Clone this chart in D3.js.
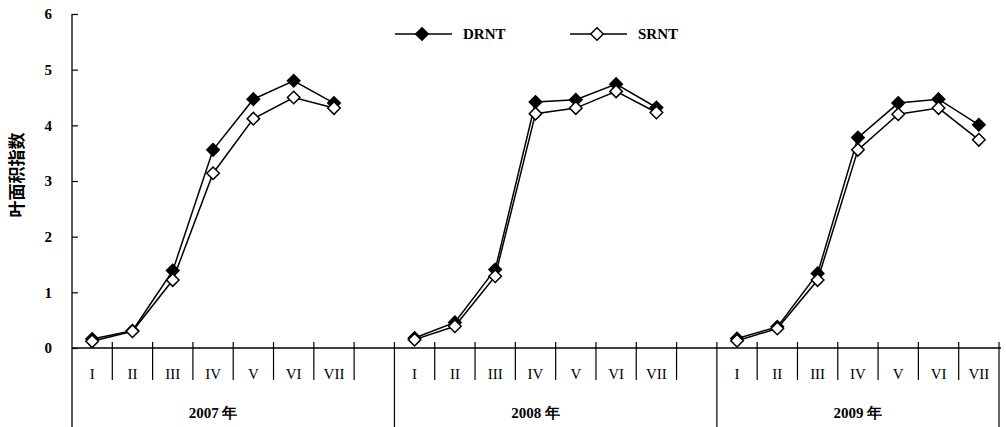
<!DOCTYPE html>
<html>
<head>
<meta charset="utf-8">
<script src="https://cdn.jsdelivr.net/npm/d3@7"></script>
<style>
  body { margin: 0; background: #fff; }
  svg { display: block; }
</style>
</head>
<body>
<div id="chart"></div>
<script>
// data (leaf area index per growth stage)
const years = ["2007", "2008", "2009"];
const stages = ["I", "II", "III", "IV", "V", "VI", "VII"];
const drnt = {
  "2007": [0.16, 0.31, 1.39, 3.56, 4.47, 4.80, 4.40],
  "2008": [0.18, 0.46, 1.41, 4.42, 4.46, 4.74, 4.32],
  "2009": [0.17, 0.38, 1.34, 3.78, 4.40, 4.47, 4.01]
};
const srnt = {
  "2007": [0.12, 0.30, 1.22, 3.14, 4.12, 4.50, 4.31],
  "2008": [0.15, 0.39, 1.29, 4.21, 4.31, 4.61, 4.23],
  "2009": [0.13, 0.35, 1.22, 3.56, 4.20, 4.31, 3.74]
};
const yTicks = [0, 1, 2, 3, 4, 5, 6];

const width = 1006, height = 427;
const x0 = 72, x1 = 999, yTop = 14, yBase = 348, bottom = 427;

// slots: 7 stages per year, with an empty slot after 2007 and 2008
let slots = [];
years.forEach((yr, i) => {
  stages.forEach(s => slots.push(yr + "-" + s));
  if (i < years.length - 1) slots.push(yr + "-gap");
});

const x = d3.scaleBand().domain(slots).range([x0, x1]).padding(0);
const y = d3.scaleLinear().domain([0, 6]).range([yBase, yTop]);

const svg = d3.select("#chart").append("svg")
  .attr("width", width)
  .attr("height", height);

const serif = "'Liberation Serif', 'Times New Roman', serif";

// y axis
const yAxis = svg.append("g")
  .attr("transform", `translate(${x0},0)`)
  .call(d3.axisLeft(y).tickValues(yTicks).tickFormat(d3.format("d"))
    .tickSizeInner(-6).tickSizeOuter(0).tickPadding(20));
yAxis.select(".domain").remove();
yAxis.selectAll(".tick line").attr("stroke", "#000").attr("stroke-width", 1.2);
yAxis.selectAll(".tick text")
  .style("font-family", serif)
  .style("font-weight", "bold")
  .style("font-size", "15px")
  .attr("fill", "#000");

svg.append("line")
  .attr("x1", x0).attr("x2", x0).attr("y1", yTop).attr("y2", bottom)
  .attr("stroke", "#000").attr("stroke-width", 1.3);

svg.append("text")
  .attr("transform", `translate(23,175) rotate(-90)`)
  .attr("text-anchor", "middle")
  .style("font-family", "'Noto Sans CJK SC', sans-serif")
  .style("font-weight", "bold")
  .style("font-size", "17px")
  .text("叶面积指数");

// x axis baseline
svg.append("line")
  .attr("x1", x0).attr("x2", 1001).attr("y1", yBase).attr("y2", yBase)
  .attr("stroke", "#000").attr("stroke-width", 1.3);

// stage separators
const bounds = slots.map(s => x(s)).concat([x1]);
svg.selectAll("line.sep")
  .data(bounds.slice(1))
  .enter().append("line")
  .attr("class", "sep")
  .attr("x1", d => d).attr("x2", d => d)
  .attr("y1", yBase - 6)
  .attr("y2", (d, i) => {
    const k = slots[i];
    return (k.endsWith("gap") || i === slots.length - 1) ? bottom : 380;
  })
  .attr("stroke", "#000").attr("stroke-width", 1.2);

// stage labels
svg.selectAll("text.stage")
  .data(slots.filter(s => !s.endsWith("gap")))
  .enter().append("text")
  .attr("class", "stage")
  .attr("x", d => x(d) + x.bandwidth() / 2)
  .attr("y", 379)
  .attr("text-anchor", "middle")
  .style("font-family", serif)
  .style("font-size", "15px")
  .text(d => d.split("-")[1]);

// year labels, centred over the seven stages
svg.selectAll("text.year")
  .data(years)
  .enter().append("text")
  .attr("class", "year")
  .attr("x", d => (x(d + "-I") + x(d + "-VII") + x.bandwidth()) / 2)
  .attr("y", 418)
  .attr("text-anchor", "middle")
  .style("font-family", serif)
  .style("font-weight", "bold")
  .style("font-size", "15px")
  .text(d => d + " 年");

// series
const line = d3.line()
  .x(d => x(d.key) + x.bandwidth() / 2)
  .y(d => y(d.v));
const diamond = d3.symbol().type(d3.symbolDiamond2).size(100);

function drawSeries(data, fill) {
  years.forEach(yr => {
    const pts = data[yr].map((v, i) => ({ key: yr + "-" + stages[i], v: v }));
    svg.append("path")
      .datum(pts)
      .attr("d", line)
      .attr("fill", "none")
      .attr("stroke", "#000")
      .attr("stroke-width", 1.5);
    svg.selectAll(null)
      .data(pts)
      .enter().append("path")
      .attr("transform", d => `translate(${x(d.key) + x.bandwidth() / 2},${y(d.v)})`)
      .attr("d", diamond)
      .attr("fill", fill)
      .attr("stroke", "#000")
      .attr("stroke-width", 1.5);
  });
}
drawSeries(drnt, "#000");
drawSeries(srnt, "#fff");

// legend
const legend = [
  { name: "DRNT", fill: "#000", x: 395 },
  { name: "SRNT", fill: "#fff", x: 570 }
];
const lg = svg.selectAll("g.legend")
  .data(legend)
  .enter().append("g")
  .attr("class", "legend")
  .attr("transform", d => `translate(${d.x},34)`);
lg.append("line")
  .attr("x1", 0).attr("x2", 57)
  .attr("stroke", "#000").attr("stroke-width", 1.5);
lg.append("path")
  .attr("transform", "translate(27,0)")
  .attr("d", diamond)
  .attr("fill", d => d.fill)
  .attr("stroke", "#000")
  .attr("stroke-width", 1.5);
lg.append("text")
  .attr("x", 68).attr("y", 5)
  .style("font-family", serif)
  .style("font-weight", "bold")
  .style("font-size", "15px")
  .text(d => d.name);
</script>
</body>
</html>
